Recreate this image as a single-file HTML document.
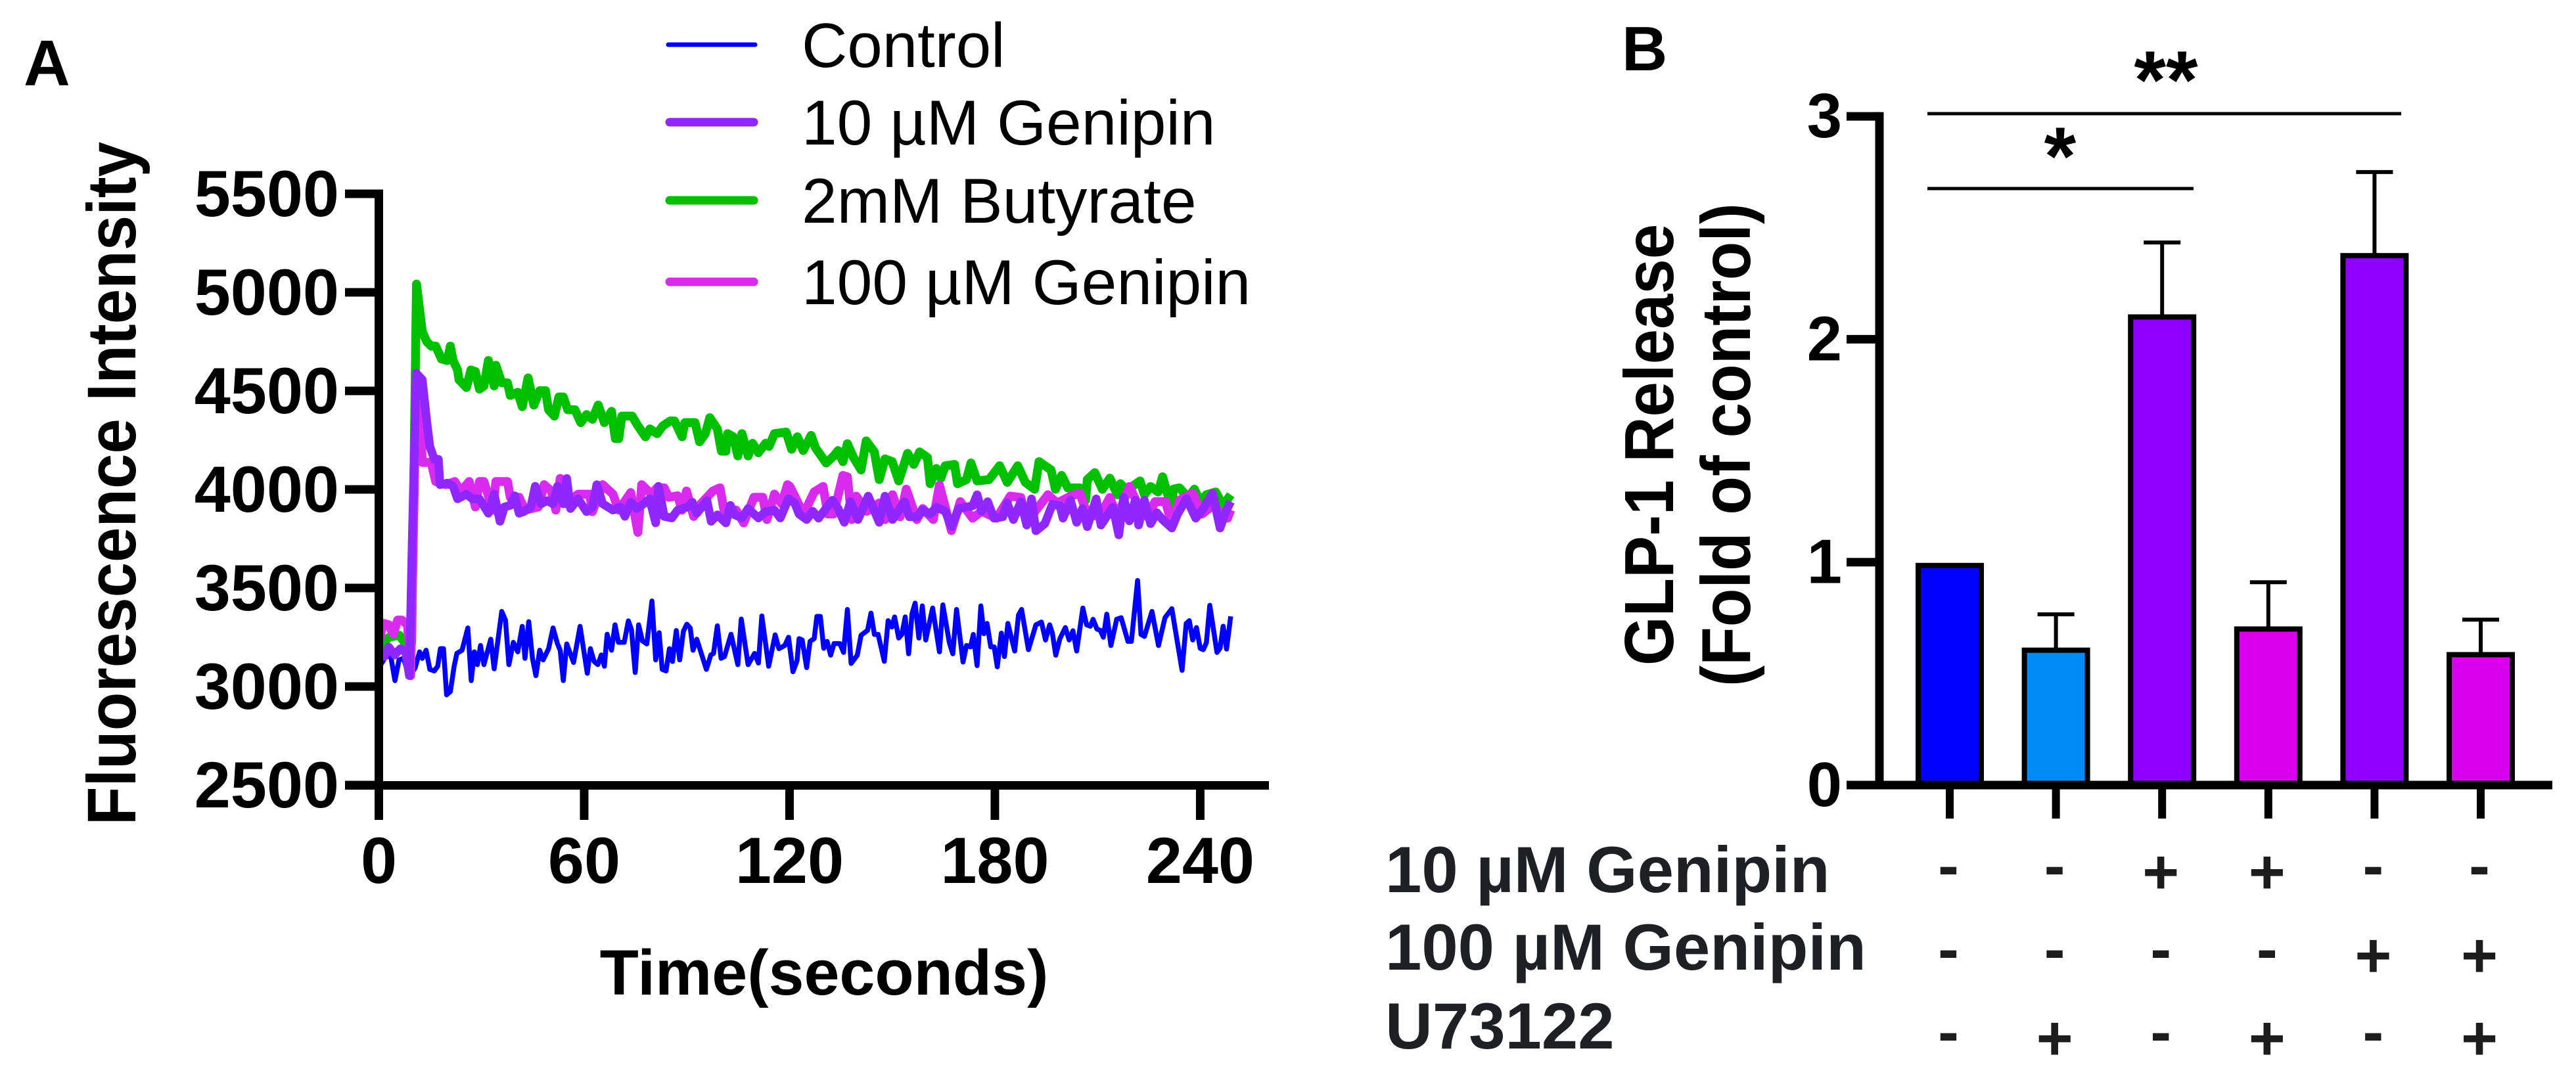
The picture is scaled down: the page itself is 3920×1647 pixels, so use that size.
<!DOCTYPE html>
<html lang="en">
<head>
<meta charset="utf-8">
<title>Fluorescence intensity and GLP-1 release</title>
<style>
html,body{margin:0;padding:0;background:#fff;}
svg{display:block;}
text{font-family:"Liberation Sans",Arial,sans-serif;}
.b{font-weight:700;}
</style>
</head>
<body>
<svg id="fig" xmlns="http://www.w3.org/2000/svg" width="3920" height="1647" viewBox="0 0 3920 1647">
  <rect x="0" y="0" width="3920" height="1647" fill="#fff"/>
  <text class="b" x="36" y="130" font-size="98">A</text>
  <text class="b" x="2468" y="107" font-size="96">B</text>

  <g id="panelA">
    <text class="b" font-size="96" text-anchor="middle" transform="translate(206 736) rotate(-90) scale(1 1.09)">Fluorescence Intensity</text>
    <text class="b" font-size="97" x="1254" y="1514" text-anchor="middle">Time(seconds)</text>
    <g>
      <g>
        <line x1="1017" x2="1149" y1="68" y2="68" stroke="#0000ff" stroke-width="7" stroke-linecap="round"/>
        <text x="1220" y="102" font-size="96">Control</text>
      </g>
      <g>
        <line x1="1019" x2="1147" y1="186" y2="186" stroke="#9027ff" stroke-width="13" stroke-linecap="round"/>
        <text x="1220" y="220" font-size="96.5">10 µM Genipin</text>
      </g>
      <g>
        <line x1="1019" x2="1147" y1="305" y2="305" stroke="#00c000" stroke-width="13" stroke-linecap="round"/>
        <text x="1220" y="339" font-size="96.5">2mM Butyrate</text>
      </g>
      <g>
        <line x1="1019" x2="1147" y1="429" y2="429" stroke="#d82bee" stroke-width="13" stroke-linecap="round"/>
        <text x="1220" y="463" font-size="96.5">100 µM Genipin</text>
      </g>
    </g>
  </g>

  <g id="panelB">
    <text class="b" font-size="96" text-anchor="middle" transform="translate(2546 677) rotate(-90) scale(1 1.1)">GLP-1 Release</text>
    <text class="b" font-size="96" text-anchor="middle" transform="translate(2663 677) rotate(-90) scale(1 1.1)">(Fold of control)</text>
    <line x1="2933" x2="3654" y1="173" y2="173" stroke="#000" stroke-width="5"/>
    <line x1="2933" x2="3338" y1="287" y2="287" stroke="#000" stroke-width="5"/>
    <text class="b" font-size="125" text-anchor="middle" x="3296" y="165">**</text>
    <text class="b" font-size="125" text-anchor="middle" x="3135" y="281">*</text>
    <text class="b" font-size="99.5" fill="#1f2026" x="2108" y="1358">10 µM Genipin</text>
    <text class="b" font-size="99.5" fill="#1f2026" x="2108" y="1476">100 µM Genipin</text>
    <text class="b" font-size="99.5" fill="#1f2026" x="2108" y="1596">U73122</text>
  </g>
</svg>

<script>
// ---- Panel A data ----
const xTicksA = [0, 60, 120, 180, 240];
const yTicksA = [2500, 3000, 3500, 4000, 4500, 5000, 5500];

const controlTimes = [0,0.6,2,3.5,4.7,5.9,7.2,8.9,10.6,11.9,12.7,13.8,14.9,16.2,17.2,18,18.9,19.8,20.9,22,22.8,24.3,26,27,27.9,28.8,29.7,30.7,32.7,33.7,35.9,37,38,39.3,40.6,41.9,42.7,43.8,44.9,45.9,47,48,49.6,50.9,52.2,53,53.9,54.9,56.9,58.8,60.9,61.8,62.9,64,65,65.9,66.7,68,69,70,71.7,72.9,73.8,74.9,75.9,77,78.3,79.8,80.9,81.9,82.8,83.9,84.9,85.8,86.9,87.9,89,90,91,91.8,92.9,95.7,97,97.8,98.9,100,101,102.9,104.9,105.9,107.9,109.8,110.9,111.9,113.9,115.8,116.9,118.6,119.7,121,122.2,122.8,123.7,125,126,127.2,128,129,130,131,132,133,134.7,135.8,136.9,138,139.8,140.9,142.8,143.8,144.8,145.9,147.7,148.8,149.9,150.7,151.9,152.8,153.8,154.8,155.8,156.7,157.8,158.8,159.8,161.8,163.8,164.8,166.7,167.7,168.8,170.7,171.7,172.9,173.7,174.8,175.9,176.8,177.7,178.8,179.8,180.7,181.9,182.8,183.8,185.8,186.9,187.8,189.8,192,193.6,194.8,196,196.8,197.8,199,200.6,201.7,202.8,203.9,205.7,206.8,207.9,208.7,209.8,210.8,211.7,212.7,213.9,215.6,216.9,218.9,219.9,221.7,222.7,223.7,225.9,227.8,229.7,231.7,234.7,235.9,236.8,237.8,238.9,240,240.9,241.8,242.8,244.9,245.8,246.7,247.7,248.9];
const controlValues = [3180,3111,3152,3152,3030,3135,3143,3047,3095,3176,3143,3184,3087,3079,3103,3192,3192,2958,2974,3103,3168,3184,3297,3030,3176,3111,3208,3111,3240,3090,3381,3337,3111,3224,3176,3305,3143,3329,3143,3055,3184,3135,3192,3297,3216,3184,3030,3216,3122,3305,3067,3192,3127,3111,3160,3103,3265,3184,3313,3224,3224,3333,3289,3071,3313,3232,3216,3434,3135,3273,3087,3079,3192,3127,3284,3135,3281,3316,3297,3184,3240,3087,3160,3168,3308,3143,3152,3265,3111,3342,3111,3168,3119,3358,3103,3262,3192,3208,3250,3075,3131,3243,3236,3096,3229,3243,3356,3356,3194,3229,3159,3218,3218,3173,3391,3117,3159,3260,3285,3372,3264,3264,3128,3334,3302,3353,3246,3264,3353,3166,3370,3423,3246,3409,3236,3398,3176,3414,3222,3166,3391,3124,3208,3201,3264,3106,3409,3268,3320,3201,3201,3100,3271,3152,3320,3180,3363,3391,3187,3313,3327,3236,3313,3271,3159,3243,3299,3236,3283,3180,3398,3313,3306,3341,3292,3285,3250,3367,3208,3341,3349,3229,3229,3538,3264,3254,3381,3208,3349,3395,3082,3320,3334,3236,3299,3194,3187,3222,3412,3173,3194,3306,3190,3356];

const butyrateTimes = [0,3,6,8.5,9.6,11,12.7,14,15.3,16.6,18.3,20,20.9,21.7,23,23.4,25.6,26.9,28.2,29.4,30.7,32,33.7,34.2,35.9,37.6,38.4,40.6,41.9,43.6,45.3,47,48.7,49.6,51.3,52.6,53.9,55.2,57.3,59,60.7,62.4,64.1,65.9,68,69.1,70.1,71,74,75.7,77.9,79.2,81.3,83,85.1,86.4,88.6,89.4,92.4,93.7,95.4,96.7,98.9,100.1,101.4,101.9,103.6,104.9,106.1,107.9,109.2,110.9,113,114,115.6,119,120.6,122.3,124,126.3,127.6,130.7,132.9,134.2,135.6,136.9,138.7,140.9,142.4,144.8,146.2,147.9,150,151.9,154.5,156.3,158,160.3,161.1,162.9,164.2,165.5,168.2,169.1,171.7,173,174.8,178.3,181.4,183.6,186.7,188.9,191.6,192.9,196.4,197.7,199.5,201.3,204.8,206.5,207,209.2,211.4,213.6,215.8,216.7,218.5,222.4,223.7,225.5,227.7,229,231.7,232.1,233.9,236.5,238.3,240,241.8,244.5,246.7,248.9];
const butyrateValues = [3200,3250,3260,3200,3220,5042,4800,4750,4727,4727,4662,4654,4727,4654,4606,4557,4517,4606,4598,4509,4525,4654,4525,4630,4541,4541,4477,4493,4420,4566,4428,4501,4501,4404,4372,4469,4469,4404,4404,4339,4380,4356,4428,4339,4396,4258,4258,4372,4372,4323,4267,4307,4283,4323,4347,4347,4267,4339,4339,4242,4283,4364,4307,4194,4194,4283,4267,4170,4283,4170,4234,4186,4234,4218,4283,4291,4204,4267,4197,4274,4211,4134,4169,4197,4141,4232,4162,4099,4246,4190,4050,4155,4141,4043,4183,4127,4190,4162,4029,4106,4057,4120,4127,4029,4050,4134,4043,4050,4120,4036,4120,4036,4001,4141,4099,4001,4071,4008,4008,3945,4050,4085,4001,4057,3973,4029,3995,4043,3973,4015,3987,4064,3903,4001,4008,3959,4001,3938,3973,3987,3917,3973];

const genipin100Times = [0,1.2,2.9,4.2,5.5,6.7,8.4,9.3,10.9,12.3,12.7,15.3,16.6,19.6,22.2,23.9,25.6,26.4,28.2,29.4,30.7,33.3,34.2,37.6,38.4,41,42.7,46.6,48.3,50.4,51.7,53,54.7,58.2,61.6,62.4,65.4,68.4,70.1,73.6,75.7,76.8,79.6,81.3,83.4,84.7,87.3,88.6,89.9,92,94.1,97.6,99.7,101,104.4,106.6,109.6,112.2,113.4,115.6,117.7,119.4,120.1,121.9,124.1,127.2,129.8,131.2,132.9,135.6,136.9,138.2,139.5,142.6,146.2,147.9,150.1,152.3,154.1,157.2,158.9,162,163.8,167.3,169.9,173.5,176.1,180.5,184.5,187.6,189.3,195.5,198.2,202.1,204.8,207,210.5,213.6,215.8,219.3,222,224.6,226.8,229.9,231.7,233.9,237.8,240.5,243.6,248,248.9];
const genipin100Values = [3216,3321,3313,3265,3337,3337,3313,3055,4509,4283,4137,4137,4040,4024,4040,3992,4024,4040,3911,4040,4040,3895,4040,4040,3960,3960,3895,3911,4024,3992,3895,4056,3927,3976,3976,3887,4024,3976,3895,3984,3782,4024,3976,4008,4008,3960,3968,3895,3992,3863,3927,3992,4008,3879,3895,3830,3960,3960,3847,3976,3927,4024,4015,3952,3875,3987,4015,3875,3875,4071,4064,3847,3966,3889,3931,3847,3973,3861,4001,3847,3903,3847,4022,3791,3938,3854,3889,3854,3966,3959,3833,3973,3931,3966,3980,3875,3861,3959,3861,4015,3917,3861,3938,3938,3819,3945,3980,3875,3917,3854,3896];

const genipin10Times = [0,1.6,2.9,4.6,6.3,7.8,8.9,9.7,10.9,12.7,14,14.9,16.2,17.4,17.9,20,21.7,23,25.6,27.3,29.4,32,33.7,35.4,36.7,38.4,39.7,41,42.3,44.4,45.7,47.4,49.1,50.9,52.2,53.9,54.9,56,58.2,60.7,62.4,63.7,65.4,68.4,70.6,71.9,73.6,75.3,77.4,79.1,80.9,81.7,83.4,85.6,87.3,90.3,91.6,92.9,95.9,97.1,98.9,101.4,102.7,104,106.1,107.9,110.9,113,115.6,117.3,119.7,121.5,122.8,125,126.8,128.5,130.3,132.5,134.2,136,137.8,140,143,146.2,147.9,150.1,153.6,155,157.2,158.9,161.1,162.9,165.5,167.3,169.5,173.5,174.8,176.1,177.9,179.7,182.3,183.6,185.4,187.6,189.3,190.7,192,194.6,196.8,199,199.9,202.1,203.9,205.6,207,209.6,211,214.5,216.2,217.6,219.3,221,222,223.7,225.5,227.3,229,231.7,233.4,236,238.7,240.9,243.6,245.8,247.5,248.9];
const genipin10Values = [3176,3152,3200,3160,3192,3176,3055,3700,4590,4557,4347,4218,4153,4153,4024,4032,4016,3952,3976,3952,3952,3879,3976,3838,3911,3919,3968,3879,3887,3911,4016,3927,3943,3927,4016,3927,4056,3903,3952,3887,3911,4024,3927,3895,3911,3863,3935,3903,3927,3952,3830,4016,3863,3855,3895,3911,3935,3879,3943,3838,3871,3830,3919,3871,3855,3903,3855,3887,3895,3855,3952,3931,3875,3847,3889,3854,3896,3945,3903,3833,3938,3847,3966,3833,3966,3847,3938,3861,3861,3896,3875,3910,3889,3811,3903,3917,3973,3889,3938,3854,3861,3931,3847,3938,3819,3952,3790,3826,3924,3917,3854,3945,3833,3903,3811,3952,3819,3910,3769,3959,3840,3945,3819,3945,3826,3882,3847,3804,3875,3952,3854,3903,3980,3804,3889,3938];

// ---- Panel B data ----
const barCategories = ['control','u73122','genipin-10','genipin-10-u73122','genipin-100','genipin-100-u73122'];
const barValues = [0.985, 0.605, 2.10, 0.70, 2.375, 0.585];
const barErrorTops = [null, 0.766, 2.434, 0.91, 2.75, 0.742];
const barColors = ['#0000ff','#008cf8','#8f00ff','#d900ee','#8f00ff','#d900ee'];
const yTicksB = [0, 1, 2, 3];
const rowGenipin10 = ['-','-','+','+','-','-'];
const rowGenipin100 = ['-','-','-','-','+','+'];
const rowU73122 = ['-','+','-','+','-','+'];

// ---- Axis functions ----
const xA = t => 576.5 + t * 5.208;
const yA = v => 1195 - (v - 2500) * 0.3;
const yB = v => 1195 - v * 339.3;
const xB = i => 2967 + i * 161.6;

const NS = 'http://www.w3.org/2000/svg';
const panelA = document.getElementById('panelA');
const panelB = document.getElementById('panelB');

function mk(parent, tag, props, text) {
  const el = document.createElementNS(NS, tag);
  for (const k in props) el.setAttribute(k, props[k]);
  if (text !== undefined) el.textContent = text;
  parent.appendChild(el);
  return el;
}

// Panel A series
function drawSeries(times, values, color, width, name) {
  const d = times.map((t, i) => (i ? 'L' : 'M') + xA(t).toFixed(1) + ' ' + yA(values[i]).toFixed(1)).join('');
  const p = mk(panelA, 'path', {d: d, fill: 'none', stroke: color, 'stroke-width': width, 'stroke-linejoin': 'round', 'stroke-linecap': 'butt'});
  
  
}
drawSeries(controlTimes, controlValues, '#0000ff', 7.5, 'series-control');
drawSeries(butyrateTimes, butyrateValues, '#00c000', 13.5, 'series-2mm-butyrate');
drawSeries(genipin100Times, genipin100Values, '#d82bee', 13.5, 'series-100um-genipin');
drawSeries(genipin10Times, genipin10Values, '#9027ff', 13, 'series-10um-genipin');

// Panel A axes
const yAxisA = mk(panelA, 'line', {x1: 576.5, x2: 576.5, y1: yA(5500) - 6.5, y2: 1248, stroke: '#000', 'stroke-width': 13});


const xAxisA = mk(panelA, 'line', {x1: 525, x2: 1931, y1: 1195.5, y2: 1195.5, stroke: '#000', 'stroke-width': 13});


yTicksA.forEach(v => {
  const tick = mk(panelA, 'line', {x1: 525, x2: 576, y1: yA(v), y2: yA(v), stroke: '#000', 'stroke-width': 13});
  
  
  const lab = mk(panelA, 'text', {x: 516, y: yA(v) + 34, 'text-anchor': 'end', 'font-size': 99, 'class': 'b'}, String(v));
  
  
});
xTicksA.forEach(t => {
  const tick = mk(panelA, 'line', {x1: xA(t), x2: xA(t), y1: 1196, y2: 1248, stroke: '#000', 'stroke-width': 13});
  
  
  const lab = mk(panelA, 'text', {x: xA(t), y: 1344, 'text-anchor': 'middle', 'font-size': 99, 'class': 'b'}, String(t));
  
  
});

// Panel B bars
barValues.forEach((v, i) => {
  const cx = xB(i);
  if (barErrorTops[i] !== null) {
    const stem = mk(panelB, 'line', {x1: cx, x2: cx, y1: yB(v), y2: yB(barErrorTops[i]), stroke: '#000', 'stroke-width': 6});
    
    
    const cap = mk(panelB, 'line', {x1: cx - 28, x2: cx + 28, y1: yB(barErrorTops[i]), y2: yB(barErrorTops[i]), stroke: '#000', 'stroke-width': 6});
    
    
  }
  const r = mk(panelB, 'rect', {x: cx - 48, y: yB(v), width: 96, height: yB(0) - yB(v), fill: barColors[i], stroke: '#000', 'stroke-width': 8});
  
  
});

// Panel B axes
const yAxisB = mk(panelB, 'line', {x1: 2860, x2: 2860, y1: yB(3) - 6.5, y2: 1201, stroke: '#000', 'stroke-width': 13});


const xAxisB = mk(panelB, 'line', {x1: 2810, x2: 3884, y1: 1195, y2: 1195, stroke: '#000', 'stroke-width': 13});


yTicksB.forEach(v => {
  const tick = mk(panelB, 'line', {x1: 2810, x2: 2860, y1: yB(v), y2: yB(v), stroke: '#000', 'stroke-width': 13});
  
  
  const lab = mk(panelB, 'text', {x: 2803, y: yB(v) + 32, 'text-anchor': 'end', 'font-size': 96, 'class': 'b'}, String(v));
  
  
});
barCategories.forEach((c, i) => {
  const tick = mk(panelB, 'line', {x1: xB(i), x2: xB(i), y1: 1195, y2: 1246, stroke: '#000', 'stroke-width': 12});
  
  
});

// Panel B treatment grid
function drawRow(row, centerY, name) {
  row.forEach((s, i) => {
    const off = s === '+' ? 32 : 22;
    const t = mk(panelB, 'text', {x: xB(i) - 2, y: centerY + off, 'text-anchor': 'middle', 'font-size': 96, 'class': 'b', fill: '#1c1c1c'}, s);
    
    
  });
}
drawRow(rowGenipin10, 1328, 'treatment-mark-10um-genipin');
drawRow(rowGenipin100, 1455, 'treatment-mark-100um-genipin');
drawRow(rowU73122, 1581, 'treatment-mark-u73122');
</script>
</body>
</html>
